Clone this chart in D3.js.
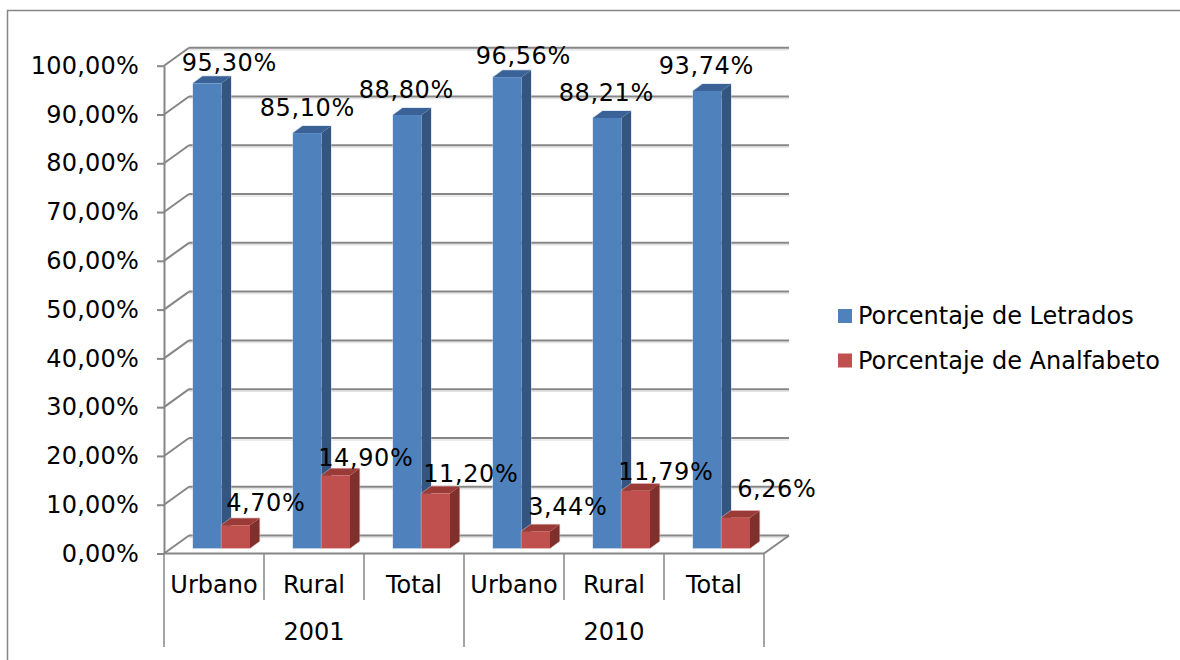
<!DOCTYPE html>
<html>
<head>
<meta charset="utf-8">
<script src="https://d3js.org/d3.v7.min.js"></script>
<style>
  body { margin: 0; background: #fff; }
  svg { display: block; }
  text { font-family: "DejaVu Sans", sans-serif; font-size: 24px; fill: #000; }
  .tick text { letter-spacing: 0.2px; }
  .s0, .s1 { letter-spacing: 0.6px; }
</style>
</head>
<body>
<div id="chart"></div>
<script>
// values
var years = ["2001", "2010"];
var categories = ["Urbano", "Rural", "Total", "Urbano", "Rural", "Total"];
var letrados = [95.30, 85.10, 88.80, 96.56, 88.21, 93.74];
var analfabeto = [4.70, 14.90, 11.20, 3.44, 11.79, 6.26];
var seriesNames = ["Porcentaje de Letrados", "Porcentaje de Analfabeto"];
var yTicks = [0, 10, 20, 30, 40, 50, 60, 70, 80, 90, 100];

// the labels were moved by hand in the original, so they get their own nudges
var labelShift = [
  [[22, 5], [0, 10], [-1, 10], [16, 6], [-1, 10], [-1, 10]],
  [[30, 7], [30, 3], [35, 5], [32, 9], [30, 4], [41, 14]]
];

var width = 1180,
    height = 660;

var axisColor = "#868686";
var faces = [
  { front: "#4f81bd", side: "#34557f", top: "#3b6296", halo: "#b9cde5" },
  { front: "#c0504d", side: "#7f2f2c", top: "#9b3b38", halo: "#e6b9b8" }
];

// 3D offsets: wall depth and bar depth
var wallDx = 25, wallDy = -18;
var barDx = 9.5, barDy = -7, barLift = 5.3;

var svg = d3.select("#chart")
  .append("svg")
    .attr("width", width)
    .attr("height", height);

var x = d3.scaleBand()
  .domain(d3.range(categories.length))
  .range([164, 764]);

var xSeries = d3.scaleBand()
  .domain([0, 1])
  .range([29, 86]);

var xYear = d3.scaleBand()
  .domain(years)
  .range([164, 764]);

var y = d3.scaleLinear()
  .domain([0, 100])
  .range([553.5, 65.7]);

var locale = d3.formatLocale({ decimal: ",", thousands: ".", grouping: [3], currency: ["", ""] });
var fmt = locale.format(".2f");
function pct(v) { return fmt(v) + "%"; }

// chart border, only top and left are visible
svg.append("path")
  .attr("d", "M7.5," + height + "V10.5H" + width)
  .attr("fill", "none")
  .attr("stroke", axisColor)
  .attr("stroke-width", 1.5);

// faint shadow under the gridlines
svg.append("g").selectAll("line.shadow")
  .data(yTicks)
  .enter().append("line")
    .attr("class", "shadow")
    .attr("x1", x.range()[0] + wallDx)
    .attr("x2", x.range()[1] + wallDx)
    .attr("y1", function(d) { return y(d) + wallDy + 2; })
    .attr("y2", function(d) { return y(d) + wallDy + 2; })
    .attr("stroke", "#e4e4e4")
    .attr("stroke-width", 1.5);

// back wall gridlines and the slanted lines on the side wall
svg.append("g").selectAll("line.grid")
  .data(yTicks)
  .enter().append("line")
    .attr("class", "grid")
    .attr("x1", x.range()[0] + wallDx)
    .attr("x2", x.range()[1] + wallDx)
    .attr("y1", function(d) { return y(d) + wallDy; })
    .attr("y2", function(d) { return y(d) + wallDy; })
    .attr("stroke", axisColor)
    .attr("stroke-width", 2);

svg.append("g").selectAll("line.side")
  .data(yTicks)
  .enter().append("line")
    .attr("class", "side")
    .attr("x1", x.range()[0])
    .attr("x2", x.range()[0] + wallDx)
    .attr("y1", function(d) { return y(d); })
    .attr("y2", function(d) { return y(d) + wallDy; })
    .attr("stroke", axisColor)
    .attr("stroke-width", 2);

// right edge of the floor
svg.append("line")
  .attr("x1", x.range()[1])
  .attr("x2", x.range()[1] + wallDx)
  .attr("y1", y(0))
  .attr("y2", y(0) + wallDy)
  .attr("stroke", axisColor)
  .attr("stroke-width", 2);

// y axis
var yAxis = svg.append("g")
  .attr("transform", "translate(" + x.range()[0] + ",0)")
  .call(d3.axisLeft(y).tickValues(yTicks).tickFormat(pct).tickSize(7).tickSizeOuter(0).tickPadding(18));
yAxis.selectAll("path, line").attr("stroke", axisColor).attr("stroke-width", 2);
yAxis.attr("font-size", null).attr("font-family", null);

// floor line of the x axis
svg.append("line")
  .attr("x1", x.range()[0])
  .attr("x2", x.range()[1])
  .attr("y1", y(0))
  .attr("y2", y(0))
  .attr("stroke", axisColor)
  .attr("stroke-width", 2);

// separators under the axis: short between categories, long between years
var separators = d3.range(categories.length + 1);
svg.append("g").selectAll("line.sep")
  .data(separators)
  .enter().append("line")
    .attr("class", "sep")
    .attr("x1", function(d) { return x.range()[0] + d * x.bandwidth(); })
    .attr("x2", function(d) { return x.range()[0] + d * x.bandwidth(); })
    .attr("y1", y(0))
    .attr("y2", function(d) { return d % 3 == 0 ? 647 : 600; })
    .attr("stroke", axisColor)
    .attr("stroke-width", 1.5);

svg.append("g").selectAll("text.cat")
  .data(categories)
  .enter().append("text")
    .attr("class", "cat")
    .attr("text-anchor", "middle")
    .attr("x", function(d, i) { return x(i) + x.bandwidth() / 2; })
    .attr("y", 593)
    .text(function(d) { return d; });

svg.append("g").selectAll("text.year")
  .data(years)
  .enter().append("text")
    .attr("class", "year")
    .attr("text-anchor", "middle")
    .attr("x", function(d) { return xYear(d) + xYear.bandwidth() / 2; })
    .attr("y", 640)
    .text(function(d) { return d; });

// bars, three faces each
function drawBar(g, i, s, v) {
  var x0 = x(i) + xSeries(s),
      x1 = x0 + xSeries.bandwidth(),
      yb = y(0) - barLift,
      yt = y(v) - barLift;

  // light rim around the whole bar
  g.append("path")
    .attr("d", "M" + x0 + "," + yb + "V" + yt + "L" + (x0 + barDx) + "," + (yt + barDy) + "H" + (x1 + barDx) + "V" + (yb + barDy) + "L" + x1 + "," + yb + "Z")
    .attr("fill", "none")
    .attr("stroke", faces[s].halo)
    .attr("stroke-opacity", 0.6)
    .attr("stroke-width", 1.5);

  g.append("path")
    .attr("d", "M" + x1 + "," + yt + "L" + (x1 + barDx) + "," + (yt + barDy) + "V" + (yb + barDy) + "L" + x1 + "," + yb + "Z")
    .attr("fill", faces[s].side);
  g.append("path")
    .attr("d", "M" + x0 + "," + yt + "L" + (x0 + barDx) + "," + (yt + barDy) + "H" + (x1 + barDx) + "L" + x1 + "," + yt + "Z")
    .attr("fill", faces[s].top);
  g.append("rect")
    .attr("x", x0)
    .attr("y", yt)
    .attr("width", xSeries.bandwidth())
    .attr("height", yb - yt)
    .attr("fill", faces[s].front);
}

var barsG = svg.append("g");
categories.forEach(function(c, i) {
  drawBar(barsG, i, 0, letrados[i]);
  drawBar(barsG, i, 1, analfabeto[i]);
});

// data labels go on top of everything
var labelsG = svg.append("g");
[letrados, analfabeto].forEach(function(values, s) {
  labelsG.selectAll("text.s" + s)
    .data(values)
    .enter().append("text")
      .attr("class", "s" + s)
      .attr("text-anchor", "middle")
      .attr("x", function(d, i) { return x(i) + xSeries(s) + xSeries.bandwidth() / 2 + labelShift[s][i][0]; })
      .attr("y", function(d, i) { return y(d) - barLift + barDy - labelShift[s][i][1]; })
      .text(function(d) { return pct(d); });
});

// legend
var legend = svg.selectAll(".legend")
  .data(seriesNames)
  .enter().append("g")
    .attr("class", "legend")
    .attr("transform", function(d, i) { return "translate(838," + (309 + i * 44.5) + ")"; });

legend.append("rect")
  .attr("width", 14)
  .attr("height", 14)
  .attr("fill", function(d, i) { return faces[i].front; });

legend.append("text")
  .attr("x", 20)
  .attr("y", 15)
  .text(function(d) { return d; });
</script>
</body>
</html>
